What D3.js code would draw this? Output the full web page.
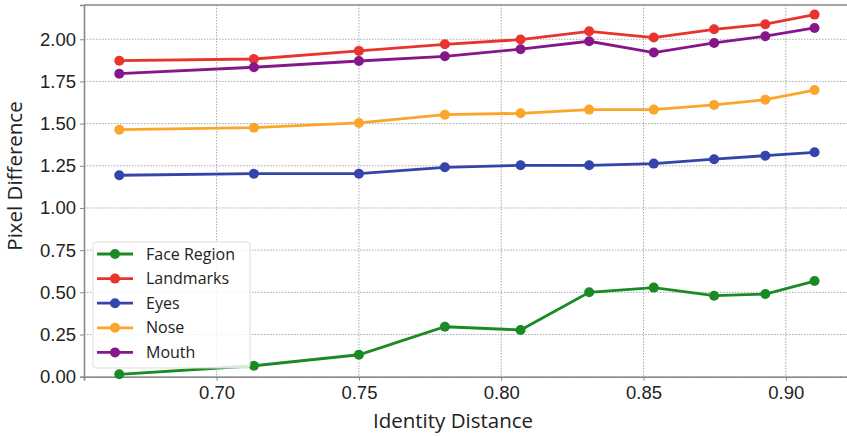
<!DOCTYPE html>
<html>
<head>
<meta charset="utf-8">
<script src="https://cdn.jsdelivr.net/npm/d3@7"></script>
<style>
  body { margin: 0; background: #fff; }
  svg { display: block; font-family: "Open Sans", sans-serif; }
</style>
</head>
<body>
<svg width="847" height="436"></svg>
<script>
// identity distance (x) for every run
var distances = [0.6658, 0.7131, 0.7500, 0.7802, 0.8068, 0.8309, 0.8536, 0.8748, 0.8928, 0.9101];

var faceRegion = [0.014, 0.065, 0.130, 0.296, 0.277, 0.500, 0.528, 0.480, 0.490, 0.567];
var landmarks  = [1.873, 1.883, 1.931, 1.970, 1.998, 2.047, 2.010, 2.059, 2.089, 2.146];
var eyes       = [1.194, 1.203, 1.203, 1.241, 1.253, 1.253, 1.263, 1.289, 1.310, 1.330];
var nose       = [1.464, 1.476, 1.504, 1.553, 1.561, 1.583, 1.583, 1.611, 1.642, 1.699];
var mouth      = [1.796, 1.834, 1.871, 1.899, 1.941, 1.988, 1.921, 1.978, 2.018, 2.067];

var seriesNames = ["Face Region", "Landmarks", "Eyes", "Nose", "Mouth"];
var seriesColors = ["#1a8a24", "#e8342c", "#3444aa", "#fba52a", "#86178a"];

var xTicks = [0.70, 0.75, 0.80, 0.85, 0.90];
var yTicks = [0.00, 0.25, 0.50, 0.75, 1.00, 1.25, 1.50, 1.75, 2.00];

var series = [faceRegion, landmarks, eyes, nose, mouth].map(function(vals, i) {
  return {
    name: seriesNames[i],
    color: seriesColors[i],
    points: vals.map(function(v, j) { return { x: distances[j], y: v }; })
  };
});

var svg = d3.select("svg"),
    width = +svg.attr("width"),
    height = +svg.attr("height");

// plot box, right side runs past the picture edge like the original
var pLeft = 84, pTop = 5, pRight = 870, pBottom = 376.7;

var x = d3.scaleLinear().domain([0.6534, 0.6534 + (pRight - pLeft) / 2846]).range([pLeft, pRight]);
var y = d3.scaleLinear().domain([0, 2.203]).range([pBottom, pTop]);

// grid
var grid = svg.append("g").attr("stroke", "#a8a8a8").attr("stroke-width", 1).attr("stroke-dasharray", "1.5,1.5");
grid.selectAll("line.gx").data(xTicks).enter().append("line")
  .attr("x1", function(d) { return x(d); }).attr("x2", function(d) { return x(d); })
  .attr("y1", pTop).attr("y2", pBottom);
grid.selectAll("line.gy").data(yTicks).enter().append("line")
  .attr("x1", pLeft).attr("x2", pRight)
  .attr("y1", function(d) { return y(d); }).attr("y2", function(d) { return y(d); });

// axes
var xAxis = svg.append("g")
  .attr("transform", "translate(0," + pBottom + ")")
  .call(d3.axisBottom(x).tickValues(xTicks).tickFormat(d3.format(".2f")).tickSizeOuter(0).tickSize(4).tickPadding(5));
var yAxis = svg.append("g")
  .attr("transform", "translate(" + pLeft + ",0)")
  .call(d3.axisLeft(y).tickValues(yTicks).tickFormat(d3.format(".2f")).tickSizeOuter(0).tickSize(4).tickPadding(4));

[xAxis, yAxis].forEach(function(a) {
  a.select(".domain").attr("stroke", "#888").attr("stroke-width", 1.6);
  a.selectAll(".tick line").attr("stroke", "#888");
  a.selectAll(".tick text").attr("fill", "#222").style("font-size", "18.5px");
});

// top spine
svg.append("line").attr("x1", pLeft).attr("x2", pRight).attr("y1", pTop).attr("y2", pTop)
  .attr("stroke", "#888").attr("stroke-width", 1.6);

// axis titles
svg.append("text")
  .attr("x", 453).attr("y", 428)
  .attr("text-anchor", "middle").attr("fill", "#222").style("font-size", "20.5px")
  .text("Identity Distance");
svg.append("text")
  .attr("transform", "translate(22,176) rotate(-90)")
  .attr("text-anchor", "middle").attr("fill", "#222").style("font-size", "20.5px")
  .text("Pixel Difference");

// lines + markers
var line = d3.line().x(function(d) { return x(d.x); }).y(function(d) { return y(d.y); });

var g = svg.selectAll("g.series").data(series).enter().append("g").attr("class", "series");
g.append("path")
  .attr("d", function(d) { return line(d.points); })
  .attr("fill", "none")
  .attr("stroke", function(d) { return d.color; })
  .attr("stroke-width", 2.8);
g.selectAll("circle").data(function(d) { return d.points.map(function(p) { return { p: p, c: d.color }; }); })
  .enter().append("circle")
  .attr("cx", function(d) { return x(d.p.x); })
  .attr("cy", function(d) { return y(d.p.y); })
  .attr("r", 5)
  .attr("fill", function(d) { return d.c; });

// legend
var lg = svg.append("g").attr("transform", "translate(93,242)");
lg.append("rect")
  .attr("width", 157).attr("height", 126).attr("rx", 3)
  .attr("fill", "#fff").attr("fill-opacity", 0.82)
  .attr("stroke", "#ddd");
var item = lg.selectAll("g.item").data(series).enter().append("g")
  .attr("transform", function(d, i) { return "translate(0," + (12 + i * 24.6) + ")"; });
item.append("line").attr("x1", 4).attr("x2", 40)
  .attr("stroke", function(d) { return d.color; }).attr("stroke-width", 2.8);
item.append("circle").attr("cx", 22).attr("r", 5).attr("fill", function(d) { return d.color; });
item.append("text").attr("x", 53).attr("dy", "0.35em")
  .attr("fill", "#222").style("font-size", "16px")
  .text(function(d) { return d.name; });
</script>
</body>
</html>
